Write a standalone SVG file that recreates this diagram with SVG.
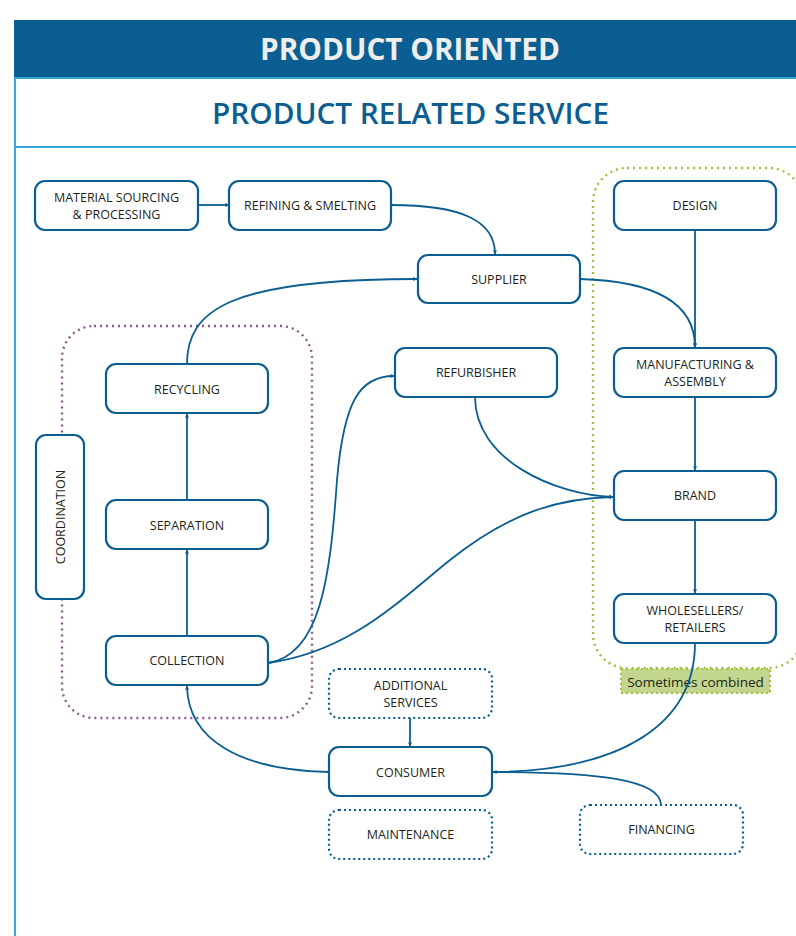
<svg xmlns="http://www.w3.org/2000/svg" width="796" height="936" viewBox="0 0 796 936">
  <style>
    .node { fill: #ffffff; stroke: #0b5e91; stroke-width: 2.2; }
    .dnode { fill: #ffffff; stroke: #0b5e91; stroke-width: 2.2; stroke-dasharray: 2 3; }
    .lbl { font-family: "Open Sans", "Liberation Sans", sans-serif; font-size: 12.5px; fill: #231f20; text-anchor: middle; }
    .edge { fill: none; stroke: #0b5e91; stroke-width: 1.8; }
    .arr { marker-end: url(#ah); }
    .frame { stroke: #35a8d8; stroke-width: 2; fill: none; }
  </style>
  <defs>
    <marker id="ah" viewBox="0 0 10 10" refX="9" refY="5" markerWidth="4" markerHeight="4" orient="auto" markerUnits="userSpaceOnUse">
      <path d="M0,0 L10,5 L0,10 z" fill="#0b5e91"/>
    </marker>
  </defs>

  <rect width="796" height="936" fill="#ffffff"/>

  <!-- title band and frame -->
  <g id="header">
    <rect x="14" y="20" width="782" height="58" fill="#0b5e91"/>
    <line class="frame" x1="15" y1="78" x2="15" y2="936"/>
    <line class="frame" x1="14" y1="78" x2="796" y2="78"/>
    <line class="frame" x1="14" y1="147" x2="796" y2="147"/>
    <text x="410" y="60" font-family="Open Sans, Liberation Sans, sans-serif" font-size="29.5" font-weight="700" fill="#eeeeee" text-anchor="middle" textLength="300" lengthAdjust="spacingAndGlyphs">PRODUCT ORIENTED</text>
    <text x="410.5" y="124" font-family="Open Sans, Liberation Sans, sans-serif" font-size="29.5" font-weight="600" fill="#0b5e91" text-anchor="middle" textLength="397" lengthAdjust="spacingAndGlyphs">PRODUCT RELATED SERVICE</text>
  </g>

  <!-- grouping outlines -->
  <g id="recovery-group">
    <rect x="62" y="326" width="250" height="392" rx="32" fill="none" stroke="#8c5a8e" stroke-width="2.4" stroke-dasharray="2 4"/>
  </g>
  <g id="combined-group">
    <rect x="593" y="168" width="210" height="500" rx="34" fill="none" stroke="#9cc33c" stroke-width="2.4" stroke-dasharray="2 4"/>
    <rect x="621" y="669" width="149" height="24" fill="#c2d68e" stroke="#9cc33c" stroke-width="2" stroke-dasharray="2 3"/>
    <text x="695.5" y="686.5" font-family="Open Sans, Liberation Sans, sans-serif" font-size="13.5" fill="#231f20" text-anchor="middle">Sometimes combined</text>
  </g>

  <!-- connectors -->
  <g id="connectors">
    <path class="edge arr" d="M198,205 L229,205"/>
    <path class="edge arr" d="M391,205 C460,205 495,220 495,254"/>
    <path class="edge arr" d="M187,364 C187,310 230,279 417,279"/>
    <path class="edge arr" d="M580,279 C650,281 695,300 695,347"/>
    <path class="edge arr" d="M695,230 L695,347"/>
    <path class="edge arr" d="M695,397 L695,470"/>
    <path class="edge arr" d="M695,520 L695,593"/>
    <path class="edge arr" d="M475,397 C475,460 555,495 613,497"/>
    <path class="edge arr" d="M268,663 C320,655 330,580 337,480 C344,400 360,376 394,376"/>
    <path class="edge arr" d="M268,663 C350,652 400,600 450,560 C510,512 560,498 613,497"/>
    <path class="edge arr" d="M187,636 L187,550"/>
    <path class="edge arr" d="M187,500 L187,414"/>
    <path class="edge arr" d="M695,643 C695,725 620,771 493,772"/>
    <path class="edge" d="M661,805 C661,780 600,772 493,772"/>
    <path class="edge arr" d="M410,718 L410,746"/>
    <path class="edge arr" d="M329,772 C240,770 188,740 187,686"/>
  </g>

  <!-- nodes -->
  <g id="material-sourcing">
    <rect class="node" x="35" y="181" width="163" height="49" rx="10"/>
    <text class="lbl" x="116.5" y="202">MATERIAL SOURCING</text>
    <text class="lbl" x="116.5" y="219">&amp; PROCESSING</text>
  </g>
  <g id="refining">
    <rect class="node" x="229" y="181" width="162" height="49" rx="10"/>
    <text class="lbl" x="310" y="210">REFINING &amp; SMELTING</text>
  </g>
  <g id="supplier">
    <rect class="node" x="418" y="255" width="162" height="48" rx="10"/>
    <text class="lbl" x="499" y="284">SUPPLIER</text>
  </g>
  <g id="design">
    <rect class="node" x="614" y="181" width="162" height="49" rx="10"/>
    <text class="lbl" x="695" y="210">DESIGN</text>
  </g>
  <g id="manufacturing">
    <rect class="node" x="614" y="348" width="162" height="49" rx="10"/>
    <text class="lbl" x="695" y="369">MANUFACTURING &amp;</text>
    <text class="lbl" x="695" y="386">ASSEMBLY</text>
  </g>
  <g id="brand">
    <rect class="node" x="614" y="471" width="162" height="49" rx="10"/>
    <text class="lbl" x="695" y="500">BRAND</text>
  </g>
  <g id="wholesellers">
    <rect class="node" x="614" y="594" width="162" height="49" rx="10"/>
    <text class="lbl" x="695" y="615">WHOLESELLERS/</text>
    <text class="lbl" x="695" y="632">RETAILERS</text>
  </g>
  <g id="refurbisher">
    <rect class="node" x="395" y="348" width="162" height="49" rx="10"/>
    <text class="lbl" x="476" y="377">REFURBISHER</text>
  </g>
  <g id="recycling">
    <rect class="node" x="106" y="364" width="162" height="49" rx="10"/>
    <text class="lbl" x="187" y="394">RECYCLING</text>
  </g>
  <g id="separation">
    <rect class="node" x="106" y="500" width="162" height="49" rx="10"/>
    <text class="lbl" x="187" y="530">SEPARATION</text>
  </g>
  <g id="collection">
    <rect class="node" x="106" y="636" width="162" height="49" rx="10"/>
    <text class="lbl" x="187" y="665">COLLECTION</text>
  </g>
  <g id="coordination">
    <rect class="node" x="36" y="435" width="48" height="164" rx="10"/>
    <text class="lbl" x="0" y="0" transform="translate(64.5,517) rotate(-90)">COORDINATION</text>
  </g>
  <g id="additional-services">
    <rect class="dnode" x="329" y="669" width="163" height="49" rx="10"/>
    <text class="lbl" x="410.5" y="690">ADDITIONAL</text>
    <text class="lbl" x="410.5" y="707">SERVICES</text>
  </g>
  <g id="consumer">
    <rect class="node" x="329" y="747" width="163" height="49" rx="10"/>
    <text class="lbl" x="410.5" y="777">CONSUMER</text>
  </g>
  <g id="maintenance">
    <rect class="dnode" x="329" y="810" width="163" height="49" rx="10"/>
    <text class="lbl" x="410.5" y="839">MAINTENANCE</text>
  </g>
  <g id="financing">
    <rect class="dnode" x="580" y="805" width="163" height="49" rx="10"/>
    <text class="lbl" x="661.5" y="834">FINANCING</text>
  </g>
</svg>
